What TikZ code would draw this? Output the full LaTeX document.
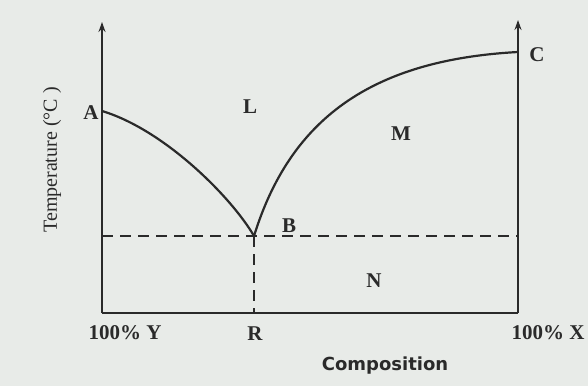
\documentclass[tikz,border=0pt]{standalone}
\usepackage{fontspec}
\setmainfont{Liberation Serif}
\setsansfont{DejaVu Sans}
\usetikzlibrary{arrows.meta}
\definecolor{paper}{HTML}{E8EBE8}
\definecolor{ink}{HTML}{2A2A2A}
\tikzset{
  axisline/.style={draw=ink, line width=2pt},
  curveline/.style={draw=ink, line width=2.2pt},
  dashline/.style={draw=ink, line width=1.7pt, dash pattern=on 11pt off 7pt},
  ptlabel/.style={text=ink, font=\fontsize{21}{21}\selectfont\bfseries, inner sep=0pt},
  ticklabel/.style={text=ink, font=\fontsize{21}{21}\selectfont\bfseries, inner sep=0pt},
}
\begin{document}
\begin{tikzpicture}[x=1pt,y=-1pt]
\fill[paper] (0,0) rectangle (588,386);
\useasboundingbox (0,0) rectangle (588,386);
% key points
\coordinate (O) at (102,313);
\coordinate (Ytop) at (102,22);
\coordinate (Xb) at (518,313);
\coordinate (Xtop) at (518,20);
\coordinate (A) at (102,111);
\coordinate (B) at (254,236);
\coordinate (C) at (518,52);
\coordinate (R) at (254,313);
\coordinate (Dl) at (102,236);
\coordinate (Dr) at (518,236);
% axes
\draw[axisline, -{Stealth[length=10pt,width=7pt]}] (O) -- (Ytop);
\draw[axisline, -{Stealth[length=10pt,width=7pt]}] (Xb) -- (Xtop);
\draw[axisline] (O) -- (Xb);
% dashed lines
\draw[dashline] (Dl) -- (Dr);
\draw[dashline] (B) -- (R);
% curves
\draw[curveline] (A) .. controls (165,130) and (232,198) .. (B);
\draw[curveline] (B) .. controls (290,120) and (370,60) .. (C);
% labels
\node[ptlabel] (lA) at (91,113) {A};
\node[ptlabel] (lB) at (289,226) {B};
\node[ptlabel] (lC) at (537,55) {C};
\node[ptlabel] (lL) at (250,107) {L};
\node[ptlabel] (lM) at (401,134) {M};
\node[ptlabel] (lN) at (374,281) {N};
\node[ticklabel] (lY) at (125,333) {100\% Y};
\node[ticklabel] (lR) at (255,334) {R};
\node[ticklabel] (lX) at (548,333) {100\% X};
\node[text=ink, font=\fontsize{18}{18}\selectfont\sffamily\bfseries, inner sep=0pt] (comp) at (385,366) {Composition};
\node[text=ink, font=\fontsize{20}{20}\selectfont, rotate=90, inner sep=0pt] (temp) at (52,160) {Temperature (\textdegree C )};
\end{tikzpicture}
\end{document}
